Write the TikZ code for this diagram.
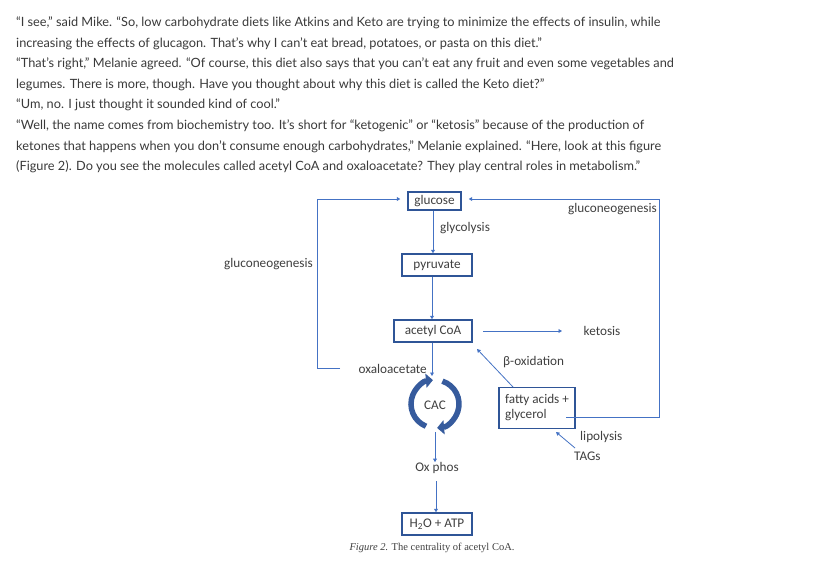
\documentclass[tikz,border=0pt]{standalone}
\usepackage{fontspec}
\setmainfont{Lato}
\newfontfamily\figfont{Carlito}
\newfontfamily\capfont{Liberation Serif}
\usetikzlibrary{arrows.meta}
\definecolor{bodytext}{HTML}{3A3A3A}
\definecolor{figtext}{HTML}{404040}
\definecolor{boxblue}{HTML}{2F5597}
\definecolor{lineblue}{HTML}{4472C4}
\tikzset{
  bodyline/.style={anchor=base west, inner sep=0pt, text=bodytext, font=\fontsize{12.75}{14}\selectfont},
  molbox/.style={draw=boxblue, line width=1.4pt, inner xsep=3pt, inner ysep=2pt, text=figtext, font=\figfont\fontsize{13.2}{15}\selectfont},
  lbl/.style={inner sep=0pt, text=figtext, font=\figfont\fontsize{13.2}{15}\selectfont},
  conn/.style={draw=lineblue, line width=0.8pt, -{Triangle[length=3.5pt,width=3.8pt]}},
  cyc/.style={draw=lineblue!80!black, line width=5.5pt, -{Triangle[length=7pt,width=14pt]}}
}
\begin{document}
\begin{tikzpicture}[x=1pt,y=-1pt]
\useasboundingbox[fill=white] (0,0) rectangle (840,579);
% body text
\node[bodyline] (l1) at (16,26) {“I see,” said Mike. “So, low carbohydrate diets like Atkins and Keto are trying to minimize the effects of insulin, while};
\node[bodyline] (l2) at (16,47) {increasing the effects of glucagon. That’s why I can’t eat bread, potatoes, or pasta on this diet.”};
\node[bodyline] (l3) at (16,67) {“That’s right,” Melanie agreed. “Of course, this diet also says that you can’t eat any fruit and even some vegetables and};
\node[bodyline] (l4) at (16,88) {legumes. There is more, though. Have you thought about why this diet is called the Keto diet?”};
\node[bodyline] (l5) at (16,108) {“Um, no. I just thought it sounded kind of cool.”};
\node[bodyline] (l6) at (16,129) {“Well, the name comes from biochemistry too. It’s short for “ketogenic” or “ketosis” because of the production of};
\node[bodyline] (l7) at (16,150) {ketones that happens when you don’t consume enough carbohydrates,” Melanie explained. “Here, look at this figure};
\node[bodyline] (l8) at (16,170) {(Figure 2). Do you see the molecules called acetyl CoA and oxaloacetate? They play central roles in metabolism.”};
% figure boxes
\node[molbox, minimum width=53pt, minimum height=18pt] (glu) at (434.5,201) {glucose};
\node[molbox, minimum width=70pt, minimum height=22pt] (pyr) at (437,265) {pyruvate};
\node[molbox, minimum width=78pt, minimum height=22pt] (aca) at (433,331) {acetyl CoA};
\node[molbox, minimum width=76pt, minimum height=41pt, align=left, inner xsep=4pt] (fat) at (537,408) {fatty acids +\\glycerol};
\node[molbox, minimum width=70pt, minimum height=22pt] (h2o) at (437,524) {H\textsubscript{2}O + ATP};
% labels
\node[lbl, anchor=west] (glyc) at (440,228) {glycolysis};
\node[lbl] (keto) at (602,331) {ketosis};
\node[lbl, anchor=west] (boxd) at (503,362) {β-oxidation};
\node[lbl, anchor=east] (oxa) at (427,369) {oxaloacetate};
\node[lbl] (cac) at (435,405) {CAC};
\node[lbl, anchor=west] (lipo) at (580,437) {lipolysis};
\node[lbl, anchor=west] (tags) at (574,456) {TAGs};
\node[lbl] (oxp) at (437,468) {Ox phos};
\node[lbl, anchor=east] (gngl) at (313,264) {gluconeogenesis};
\node[lbl, anchor=east] (gngr) at (657,209) {gluconeogenesis};
\node[inner sep=0pt, text=figtext, font=\capfont\fontsize{10.5}{12}\selectfont] (cap) at (432,548) {\textit{Figure 2.} The centrality of acetyl CoA.};
% coordinates
\coordinate (oxL) at (340,368);
\coordinate (fatin) at (566,417);
\coordinate (cacTop) at (432,376);
\coordinate (cacBot) at (435,432);
\coordinate (ketoSt) at (483,331);
\coordinate (ketoEnd) at (562,331);
\coordinate (betaSt) at (513,387);
\coordinate (betaEnd) at (477,349);
\coordinate (tagSt) at (575,448);
\coordinate (tagEnd) at (556,432);
\coordinate (oxpSt) at (436,481);
% connectors
\draw[conn] (glu.south -| 433,0) -- (pyr.north -| 433,0);
\draw[conn] (pyr.south -| 432,0) -- (aca.north -| 432,0);
\draw[conn] (aca.south -| 432,0) -- (cacTop);
\draw[conn] (cacBot) -- (oxp.north -| 435,0);
\draw[conn] (oxpSt) -- (h2o.north -| 436,0);
\draw[conn] (ketoSt) -- (ketoEnd);
\draw[conn] (betaSt) -- (betaEnd);
\draw[conn] (tagSt) -- (tagEnd);
\draw[conn] (oxL) -- (317,368) -- (317,199) -- ([xshift=-7pt]glu.west |- 0,199);
\draw[conn] (fatin) -- (659,417) -- (659,199) -- ([xshift=7pt]glu.east |- 0,199);
% CAC cycle
\draw[cyc] (435,404) ++(112:24) arc[start angle=112, end angle=265, radius=24];
\draw[cyc] (435,404) ++(-72:24) arc[start angle=-72, end angle=85, radius=24];
\end{tikzpicture}
\end{document}
